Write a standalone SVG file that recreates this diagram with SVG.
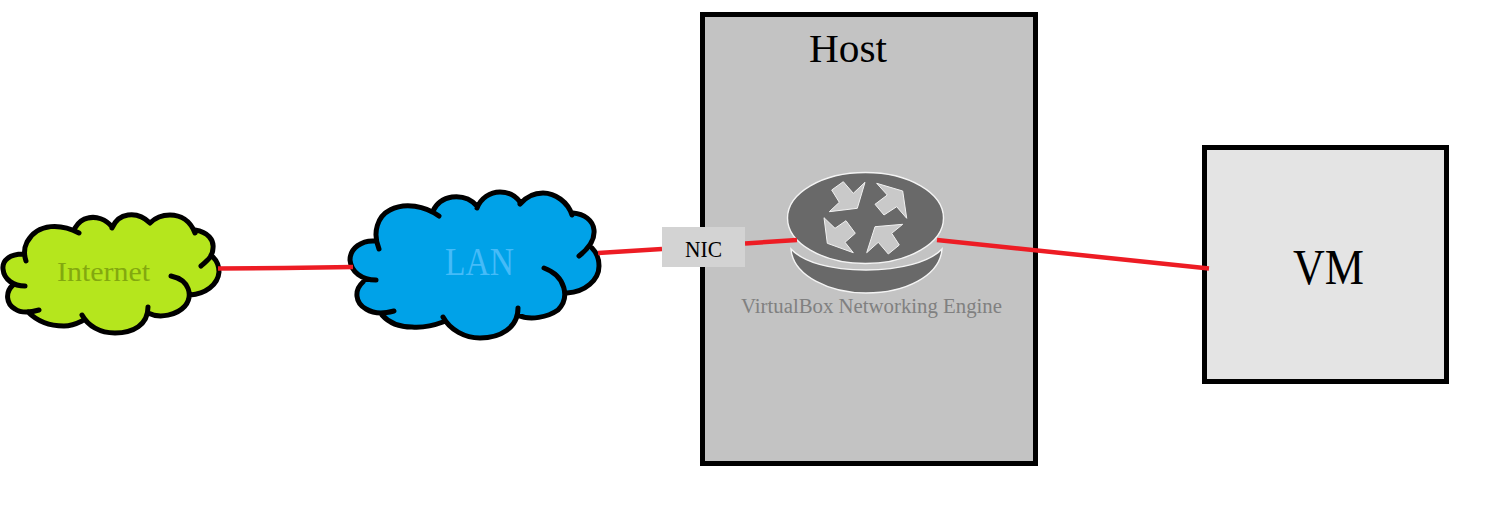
<svg xmlns="http://www.w3.org/2000/svg" width="1485" height="508" viewBox="0 0 1485 508">
<style>
text{font-family:"Liberation Serif","Times New Roman",serif}
.box{stroke:#000;stroke-width:5}
.lobes{fill:none;stroke:#000;stroke-width:5;stroke-linecap:round;stroke-linejoin:round}
.router{fill:#696969;stroke:#f4f4f4;stroke-width:1.4}
.arrow{fill:#c9c9c9;stroke:#f2f2f2;stroke-width:1;stroke-linejoin:round}
.link{fill:none;stroke:#ed1c24;stroke-width:4.500}
</style>
<rect width="1485" height="508" fill="#fff"/>
<g id="host">
<rect class="box" x="702.5" y="14.5" width="333" height="449" fill="#c3c3c3"/>
<text x="809" y="62" font-size="41" textLength="78" lengthAdjust="spacingAndGlyphs" fill="#000">Host</text>
</g>
<g id="engine">
<path class="router" d="M791,249C793,276 830,293 866,293C905,293 940,276 942,249C930,262 900,270 866,270C830,270 803,262 791,249Z"/>
<ellipse class="router" cx="865.500" cy="218" rx="78" ry="45.500"/>
<polygon class="arrow" points="865,182.300 857.300,208.300 829.300,211.700 839.300,202.300 831.700,190 843.300,181.700 853.300,193.300"/>
<polygon class="arrow" points="876.700,183.300 902.700,191 906.700,218.300 896.700,206.700 884,215 875,204.300 887.300,195"/>
<polygon class="arrow" points="824,217.700 835,228.300 846,220.700 855.300,233.300 845,242.300 853.300,252.700 827.300,243.300"/>
<polygon class="arrow" points="902.700,224.300 891.700,233.300 899.300,245 888.300,254 878.300,242.300 866.700,252.700 875,226.700"/>
<text x="741" y="313" font-size="20.500" textLength="261" lengthAdjust="spacingAndGlyphs" fill="#808080">VirtualBox Networking Engine</text>
</g>
<g id="internet">
<path fill="#b5e61d" d="M79,233C62,224 38,222 27,242C24,248 24,255 26,261L23,254C10,254 2,260 3,269C4,280 14,286 25,286L13,285C5,292 6,304 15,309C22,314 32,312 39,310L28,312C38,322 50,326 64,326C72,326 78,323 82,321L82,315C88,326 100,333 115,333C133,333 148,325 148,307L148,313C160,319 177,315 185,306C193,296 190,280 171,276L190,295C205,294 218,285 219,272C219,266 217,261 213,257L201,266C208,260 213,256 213,248C214,240 208,232 195,230L195,233C190,220 180,215 170,215C162,215 155,218 150,223C143,216 135,214 128,215C120,216 115,221 112,228L112,227C106,219 96,216 88,218C82,219 78,223 75,228Z M40,260L60,310L150,305L190,295L210,270L190,240L100,235Z"/>
<path class="lobes" d="M79,233C62,224 38,222 27,242C24,248 24,255 26,261M23,254C10,254 2,260 3,269C4,280 14,286 25,286M13,285C5,292 6,304 15,309C22,314 32,312 39,310M28,312C38,322 50,326 64,326C72,326 78,323 82,321M82,315C88,326 100,333 115,333C133,333 148,325 148,307M148,313C160,319 177,315 185,306C193,296 190,280 171,276M190,295C205,294 218,285 219,272C219,266 217,261 213,257M201,266C208,260 213,256 213,248C214,240 208,232 195,230M195,233C190,220 180,215 170,215C162,215 155,218 150,223M150,223C143,216 135,214 128,215C120,216 115,221 112,228M112,227C106,219 96,216 88,218C82,219 78,223 75,228"/>
<text x="57" y="281" font-size="28" textLength="93" lengthAdjust="spacingAndGlyphs" fill="#83a80f">Internet</text>
</g>
<g id="lan">
<path fill="#00a2e8" d="M439,216C425,206 405,202 390,210C378,216 372,232 379,249L375,241C362,240 350,248 350,260C351,272 362,280 376,280L363,282C354,290 355,303 366,309C376,315 386,313 394,311L382,315C390,324 400,327 412,327C425,328 435,325 443,322L443,317C450,330 465,338 480,338C500,338 518,328 518,308L518,315C530,321 548,317 558,310C570,298 566,276 544,268L567,293C585,292 599,280 599,266C599,258 596,252 592,248L579,256C588,249 595,240 594,230C593,220 584,214 573,213L572,215C568,202 555,193 543,193C534,193 526,197 520,204L520,202C515,195 508,192 500,192C490,192 481,198 477,208L477,206C470,198 460,196 452,197C443,198 436,204 433,211Z M370,262L390,300L470,320L565,292L585,260L560,225L450,215Z"/>
<path class="lobes" d="M439,216C425,206 405,202 390,210C378,216 372,232 379,249M375,241C362,240 350,248 350,260C351,272 362,280 376,280M363,282C354,290 355,303 366,309C376,315 386,313 394,311M382,315C390,324 400,327 412,327C425,328 435,325 443,322M443,317C450,330 465,338 480,338C500,338 518,328 518,308M518,315C530,321 548,317 558,310C570,298 566,276 544,268M567,293C585,292 599,280 599,266C599,258 596,252 592,248M579,256C588,249 595,240 594,230C593,220 584,214 573,213M572,215C568,202 555,193 543,193C534,193 526,197 520,204M520,202C515,195 508,192 500,192C490,192 481,198 477,208M477,206C470,198 460,196 452,197C443,198 436,204 433,211"/>
<text x="445" y="275" font-size="40" textLength="69" lengthAdjust="spacingAndGlyphs" fill="#45bbf8">LAN</text>
</g>
<g id="vm">
<rect class="box" x="1204.500" y="147.500" width="242" height="234" fill="#e4e4e4"/>
<text x="1293" y="284" font-size="50" textLength="71" lengthAdjust="spacingAndGlyphs" fill="#000">VM</text>
</g>
<g id="connectors">
<path class="link" d="M218,268.500L285,268L353,267"/>
<path class="link" d="M598,253L662,249"/>
<path class="link" d="M745,243.500L797,240"/>
<path class="link" d="M937,240L1209,268.500"/>
</g>
<g id="nic">
<rect x="662" y="227" width="83" height="40" fill="#d3d3d3"/>
<text x="685" y="257" font-size="23" textLength="37" lengthAdjust="spacingAndGlyphs" fill="#000">NIC</text>
</g>
</svg>
